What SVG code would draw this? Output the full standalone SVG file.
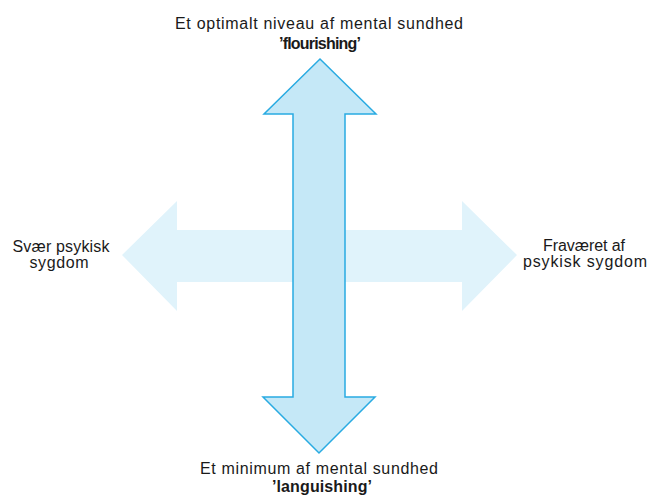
<svg xmlns="http://www.w3.org/2000/svg" width="648" height="498" viewBox="0 0 648 498">
<style>
text{font-family:"Liberation Sans",Arial,sans-serif;font-size:16px;fill:#1a1a1a;text-anchor:middle}
.b{font-weight:bold}
.h{fill:#E0F3FB}
.v{fill:#C5E8F7;stroke:#29ABE2;stroke-width:1.5;stroke-linejoin:miter}
</style>
<rect width="648" height="498" fill="#fff"/>
<g id="connectors">
<path id="horizontal-arrow" class="h" d="M122,255 L177,201 L177,230 L462,230 L462,201 L517,255 L462,311 L462,282 L177,282 L177,311 Z"/>
<path id="vertical-arrow" class="v" d="M320,59 L376,114 L345,114 L345,397 L375,397 L319,453 L263,397 L293,397 L293,114 L264,114 Z"/>
</g>
<g id="top">
<text x="319" y="29" textLength="288" lengthAdjust="spacing">Et optimalt niveau af mental sundhed</text>
<text x="320" y="49" class="b" textLength="82" lengthAdjust="spacing">’flourishing’</text>
</g>
<g id="bottom">
<text x="319" y="474" textLength="238" lengthAdjust="spacing">Et minimum af mental sundhed</text>
<text x="322" y="492" class="b" textLength="100" lengthAdjust="spacing">’languishing’</text>
</g>
<g id="left">
<text x="61" y="252" textLength="97" lengthAdjust="spacing">Svær psykisk</text>
<text x="59" y="268" textLength="59" lengthAdjust="spacing">sygdom</text>
</g>
<g id="right">
<text x="584" y="251" textLength="82" lengthAdjust="spacing">Fraværet af</text>
<text x="585" y="267" textLength="124" lengthAdjust="spacing">psykisk sygdom</text>
</g>
</svg>
